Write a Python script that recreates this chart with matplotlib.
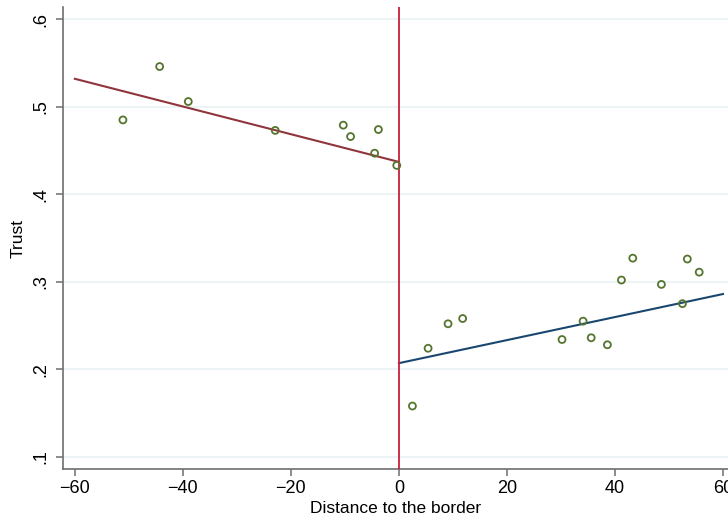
import numpy as np
import matplotlib.pyplot as plt

plt.rcParams['font.family'] = ['Liberation Sans', 'DejaVu Sans']

# binned scatter, left of the border
left_x = [-51.1, -44.3, -39.0, -22.9, -10.3, -8.95, -3.8, -4.5, -0.4]
left_y = [0.485, 0.546, 0.506, 0.473, 0.479, 0.466, 0.474, 0.447, 0.433]

# binned scatter, right of the border
right_x = [2.5, 5.4, 9.1, 11.8, 30.2, 34.1, 35.6, 38.6, 41.2, 43.3, 48.6, 52.5, 53.4, 55.6]
right_y = [0.158, 0.224, 0.252, 0.258, 0.234, 0.255, 0.236, 0.228, 0.302, 0.327, 0.297, 0.275, 0.326, 0.311]

# fitted lines (end points)
left_fit_x = [-60, 0]
left_fit_y = [0.532, 0.437]
right_fit_x = [0, 60]
right_fit_y = [0.207, 0.286]

xticks = [-60, -40, -20, 0, 20, 40, 60]
yticks = [0.1, 0.2, 0.3, 0.4, 0.5, 0.6]
ytick_labels = ['.1', '.2', '.3', '.4', '.5', '.6']

fig = plt.figure(figsize=(7.28, 5.22), dpi=100)
ax = fig.add_axes([0.0865, 0.1015, 0.9135, 0.885])

ax.set_xlim(-62.2, 60.93)
ax.set_ylim(0.086, 0.614)

# grid
for v in yticks:
    ax.axhline(v, color='#eaf2f3', lw=1.2, zorder=0)

ax.plot(left_fit_x, left_fit_y, color='#90353b', lw=1.5, zorder=2)
ax.plot(right_fit_x, right_fit_y, color='#1a476f', lw=1.5, zorder=2)
ax.axvline(0, color='#c8203c', lw=1.3, zorder=3)

ax.scatter(left_x, left_y, s=25, facecolors='none', edgecolors='#55752f', linewidths=1.3, zorder=4)
ax.scatter(right_x, right_y, s=25, facecolors='none', edgecolors='#55752f', linewidths=1.3, zorder=4)

for side in ['top', 'right']:
    ax.spines[side].set_visible(False)
for side in ['left', 'bottom']:
    ax.spines[side].set_color('#6e6e6e')
    ax.spines[side].set_linewidth(1.2)

ax.set_xticks(xticks)
ax.set_xticklabels([str(t).replace('-', '\u2212') for t in xticks])
ax.set_yticks(yticks)
ax.set_yticklabels(ytick_labels, rotation=90, va='center')
ax.tick_params(axis='both', length=5, width=1.1, color='#6e6e6e', labelsize=13, pad=3)
ax.tick_params(axis='y', pad=5)

ax.set_xlabel('Distance to the border', fontsize=12.5, labelpad=3)
ax.set_ylabel('Trust', fontsize=12.5, labelpad=5)

fig.savefig('out.png', dpi=100)
